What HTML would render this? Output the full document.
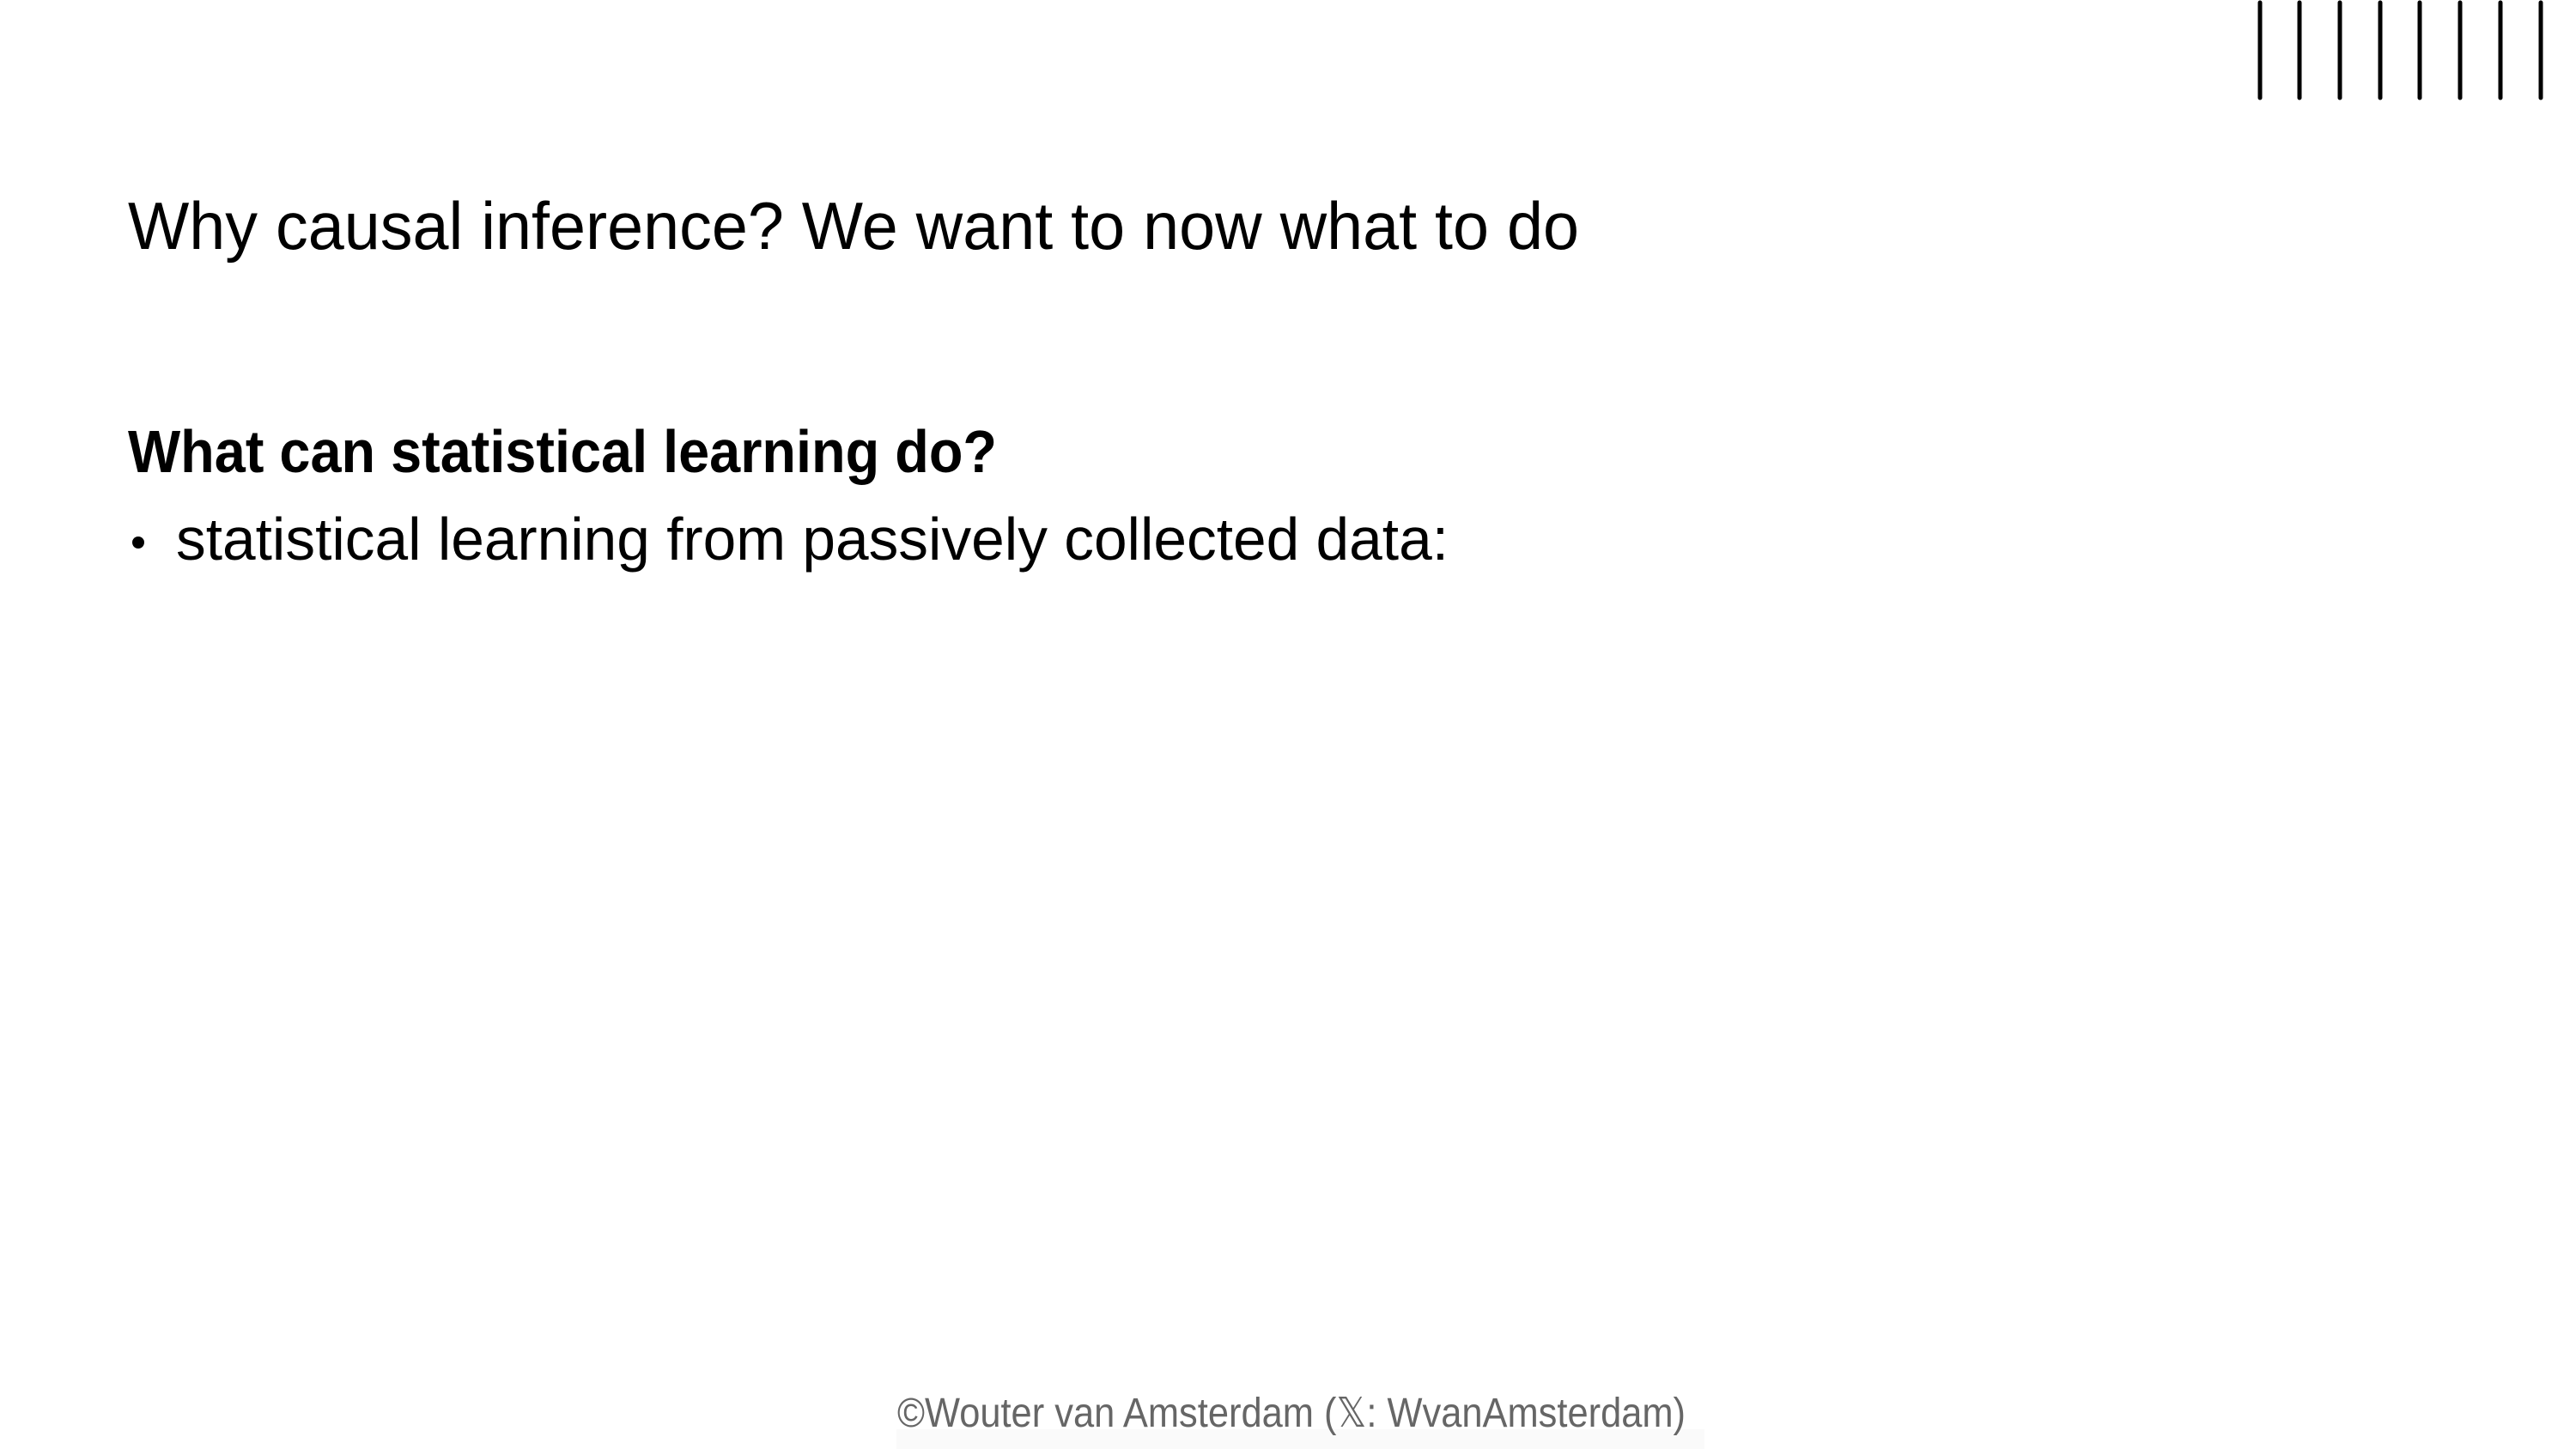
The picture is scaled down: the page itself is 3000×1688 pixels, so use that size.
<!DOCTYPE html>
<html><head><style>
html,body{margin:0;padding:0;background:#fff;}
svg{display:block;}
</style></head><body>
<svg width="3000" height="1688" xmlns="http://www.w3.org/2000/svg">
<rect width="3000" height="1688" fill="#fff"/>
<g stroke="#000" stroke-width="5" stroke-linecap="round">
<line x1="2632" y1="3" x2="2632" y2="114"/>
<line x1="2678" y1="3" x2="2678" y2="114"/>
<line x1="2725" y1="3" x2="2725" y2="114"/>
<line x1="2772" y1="3" x2="2772" y2="114"/>
<line x1="2818" y1="3" x2="2818" y2="114"/>
<line x1="2865" y1="3" x2="2865" y2="114"/>
<line x1="2912" y1="3" x2="2912" y2="114"/>
<line x1="2959" y1="3" x2="2959" y2="114"/>
</g>
<g font-family="Liberation Sans, sans-serif" fill="#000">
<text x="149" y="290" font-size="78" textLength="1690" lengthAdjust="spacingAndGlyphs">Why causal inference? We want to now what to do</text>
<text x="149" y="550" font-size="70" font-weight="bold" textLength="1012" lengthAdjust="spacingAndGlyphs">What can statistical learning do?</text>
<circle cx="161" cy="632" r="7"/>
<text x="205" y="652" font-size="70" textLength="1482" lengthAdjust="spacingAndGlyphs">statistical learning from passively collected data:</text>
</g>
<rect x="1044" y="1665" width="941" height="23" fill="#fafafa"/>
<text x="1045" y="1662" font-family="Liberation Sans, sans-serif" font-size="48" fill="#666" textLength="918" lengthAdjust="spacingAndGlyphs">©Wouter van Amsterdam (𝕏: WvanAmsterdam)</text>
</svg>
</body></html>
